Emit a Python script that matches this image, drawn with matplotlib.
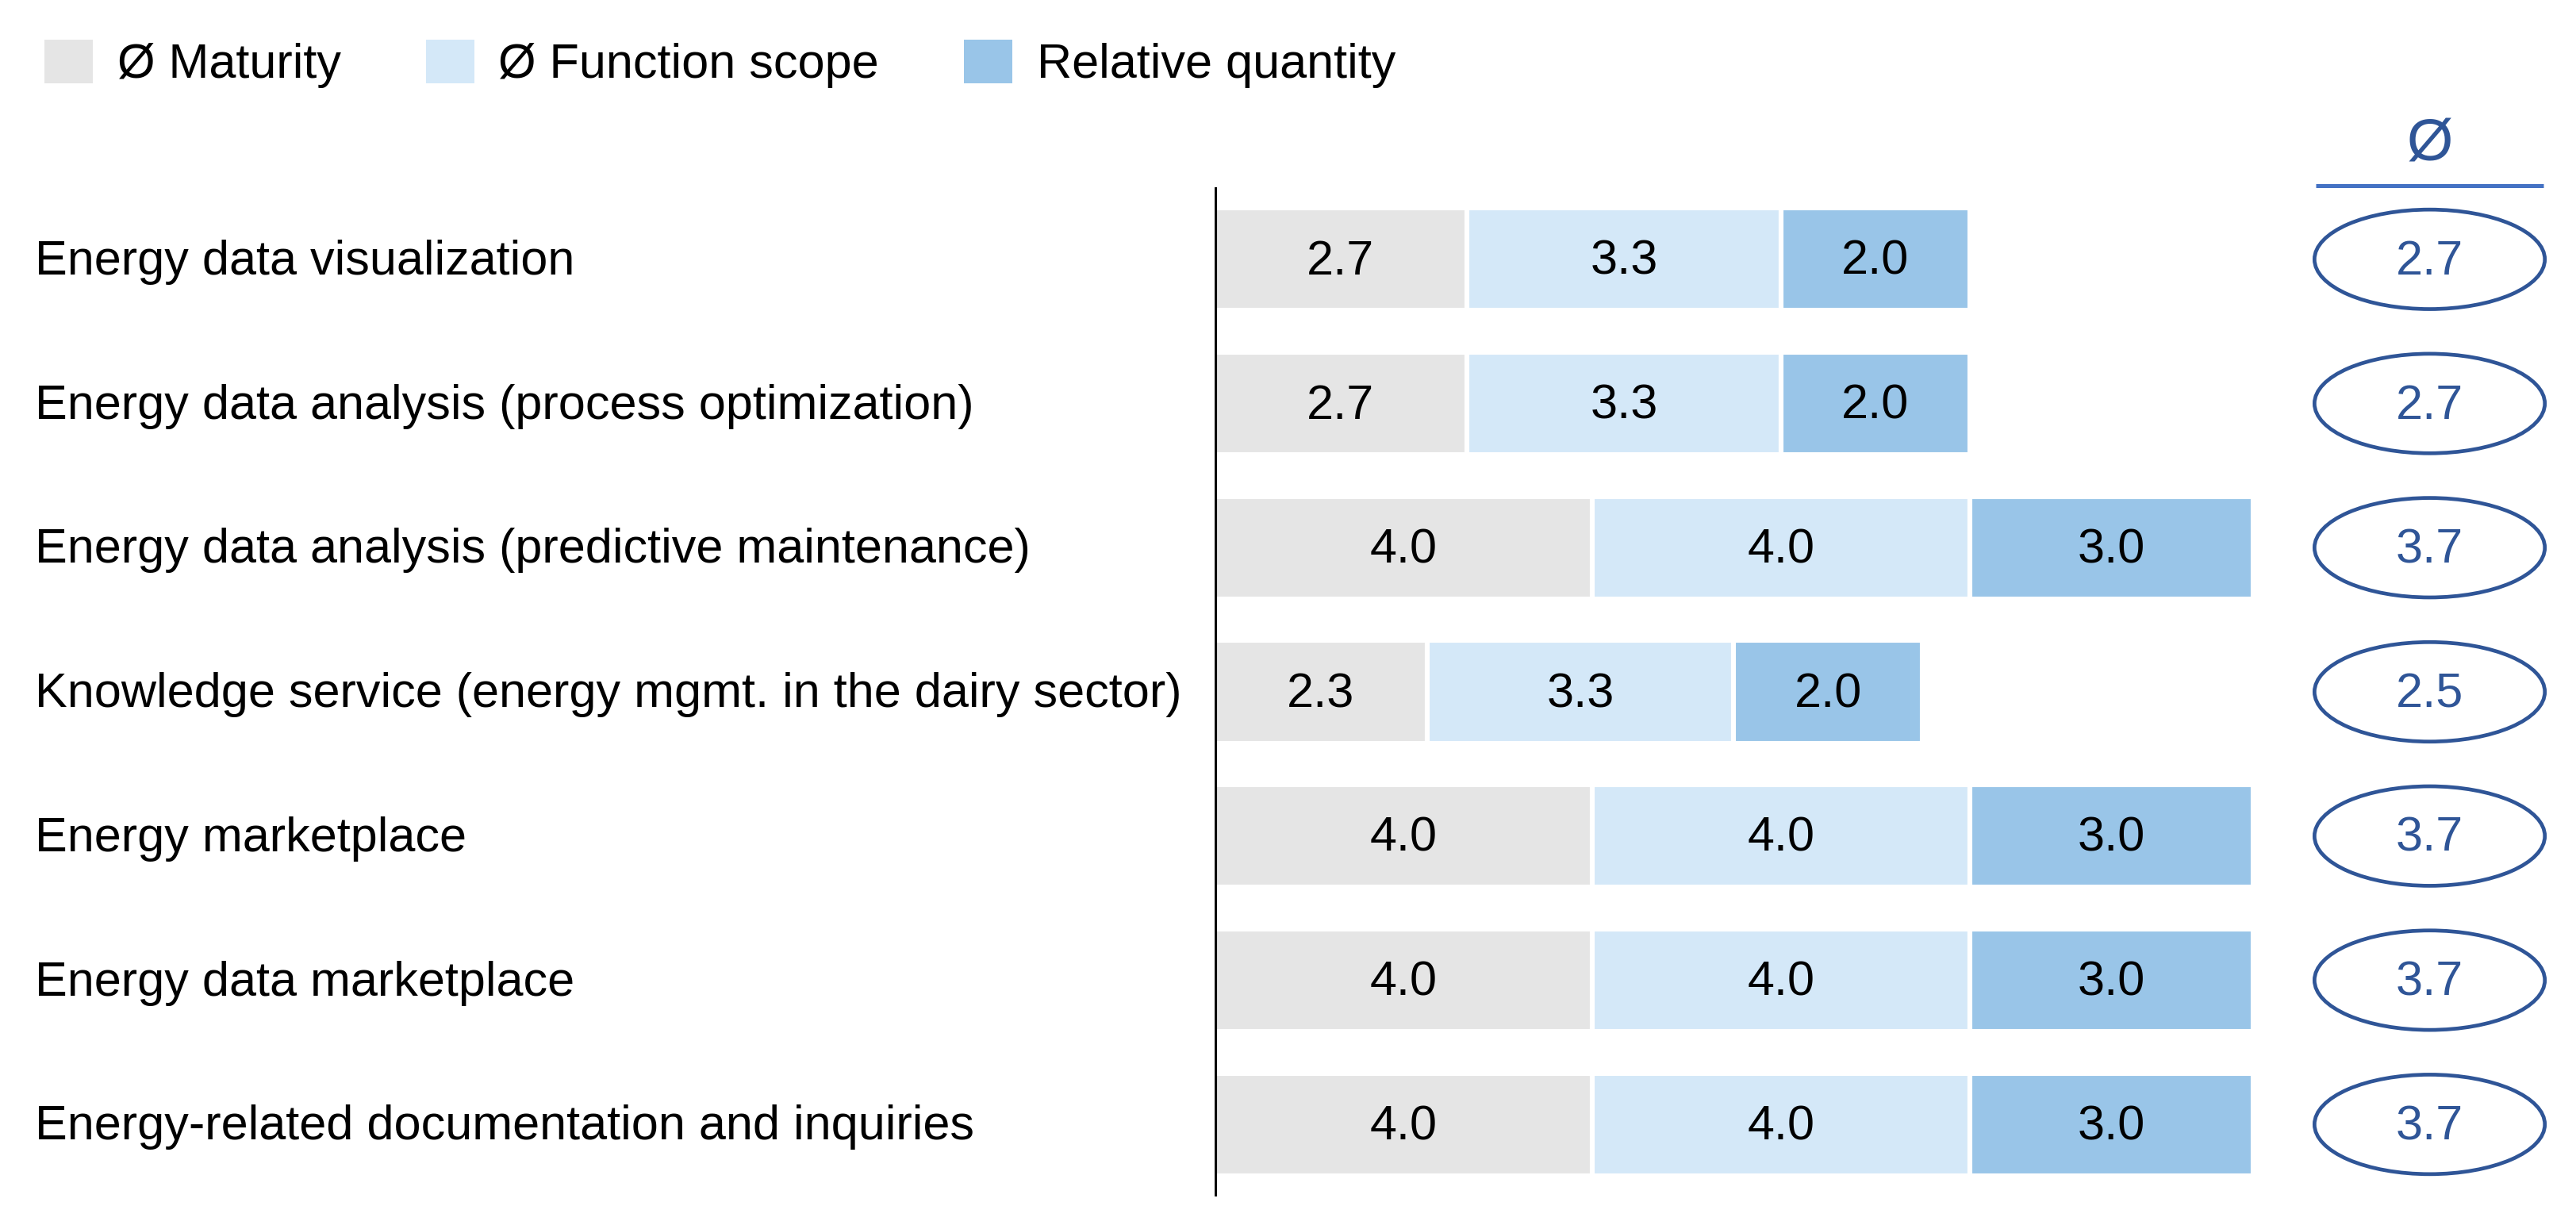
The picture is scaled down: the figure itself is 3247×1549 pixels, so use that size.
import matplotlib.pyplot as plt
import matplotlib.transforms as mtransforms
from matplotlib.patches import Ellipse, Patch
import numpy as np

plt.rcParams['font.family'] = ['Liberation Sans', 'DejaVu Sans']

# Data
services = [
    "Energy data visualization",
    "Energy data analysis (process optimization)",
    "Energy data analysis (predictive maintenance)",
    "Knowledge service (energy mgmt. in the dairy sector)",
    "Energy marketplace",
    "Energy data marketplace",
    "Energy-related documentation and inquiries",
]
maturity = [2.67, 2.67, 4.0, 2.25, 4.0, 4.0, 4.0]
function_scope = [3.33, 3.33, 4.0, 3.25, 4.0, 4.0, 4.0]
rel_quantity = [2.0, 2.0, 3.0, 2.0, 3.0, 3.0, 3.0]
series_names = ["Ø Maturity", "Ø Function scope", "Relative quantity"]
colors = ["#E5E5E5", "#D4E8F8", "#99C5E8"]
avg_color = "#2F5597"

def fmt(v):
    return f"{v + 1e-9:.1f}"

fig = plt.figure(figsize=(16.24, 7.745), dpi=200)
ax = fig.add_axes([1531 / 3248, 1 - 1508 / 1549, 1 - 1531 / 3248, (1508 - 236) / 1549])

y = np.arange(len(services))
left = np.zeros(len(services))
for vals, col, name in zip([maturity, function_scope, rel_quantity], colors, series_names):
    vals = np.array(vals)
    ax.barh(y, vals, left=left, height=0.71, color=col, edgecolor="white",
            linewidth=2.2, label=name)
    for yi, l, v in zip(y, left, vals):
        ax.text(l + v / 2, yi + 0.02, fmt(v), ha="center", va="center", fontsize=22)
    left = left + vals

ax.set_xlim(0, 1717 / 119)
ax.set_ylim(len(services) - 0.5, -0.5)
ax.axis("off")
ax.axvline(0, color="black", lw=2.2)

# average column
col_x = 12.87
avg = (np.array(maturity) + np.array(function_scope) + np.array(rel_quantity)) / 3
for yi, a in zip(y, avg):
    ax.add_patch(Ellipse((col_x, yi), 2.44, 0.69, facecolor="white",
                         edgecolor=avg_color, lw=1.7, clip_on=False))
    ax.text(col_x, yi + 0.02, fmt(a), ha="center", va="center", fontsize=22,
            color=avg_color)
ax.plot([col_x - 1.205, col_x + 1.205], [-0.51, -0.51], color="#4472C4", lw=1.8,
        solid_capstyle="butt", clip_on=False)
ax.text(col_x, -0.79, "Ø", ha="center", va="center", fontsize=27, color=avg_color,
        clip_on=False)

# category labels
trans = mtransforms.blended_transform_factory(fig.transFigure, ax.transData)
for yi, s in zip(y, services):
    ax.text(44 / 3248, yi + 0.02, s, transform=trans, ha="left", va="center",
            fontsize=22)

handles = [Patch(facecolor=c, edgecolor="none") for c in colors]
fig.legend(handles, series_names, loc="upper left",
           bbox_to_anchor=(56 / 3248, 1 - 50 / 1549), ncol=3, frameon=False,
           fontsize=22, handlelength=1.0, handleheight=1.0, handletextpad=0.5,
           columnspacing=1.75, borderpad=0, borderaxespad=0)

fig.savefig("out.png", dpi=200, facecolor="white")
